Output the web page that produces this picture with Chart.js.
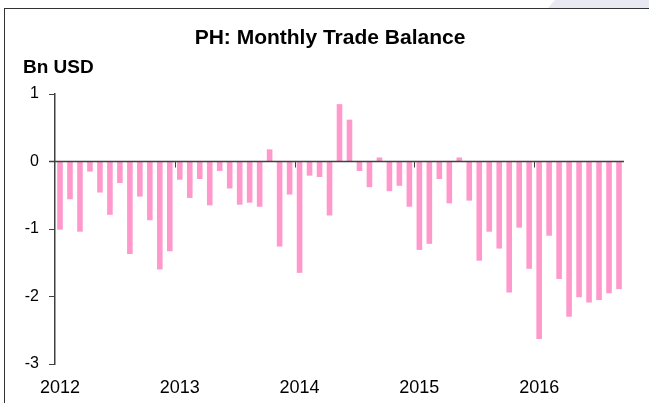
<!DOCTYPE html>
<html>
<head>
<meta charset="utf-8">
<script src="https://cdn.jsdelivr.net/npm/chart.js@4.4.3/dist/chart.umd.min.js"></script>
<style>
  body { margin: 0; background: #fff; }
  #wrap { position: relative; width: 649px; height: 403px; overflow: hidden; }
  #frame { position: absolute; left: 4px; top: 8px; right: -2px; bottom: -2px;
    border-top: 1px solid #333; border-left: 1px solid #333; }
  #corner { position: absolute; left: 548px; top: 0; width: 101px; height: 8px;
    background: #e8e8f3; clip-path: polygon(7px 0, 101px 0, 101px 8px, 0 8px); }
  canvas { position: absolute; left: 0; top: 0; }
</style>
</head>
<body>
<div id="wrap">
  <div id="corner"></div>
  <div id="frame"></div>
  <canvas id="chart" width="649" height="403"></canvas>
</div>
<script>
// Chart text
const title = 'PH: Monthly Trade Balance'
const unitLabel = 'Bn USD'

// Monthly categories, Jan 2012 - Sep 2016
const months = [
  '2012-01', '2012-02', '2012-03', '2012-04', '2012-05', '2012-06',
  '2012-07', '2012-08', '2012-09', '2012-10', '2012-11', '2012-12',
  '2013-01', '2013-02', '2013-03', '2013-04', '2013-05', '2013-06',
  '2013-07', '2013-08', '2013-09', '2013-10', '2013-11', '2013-12',
  '2014-01', '2014-02', '2014-03', '2014-04', '2014-05', '2014-06',
  '2014-07', '2014-08', '2014-09', '2014-10', '2014-11', '2014-12',
  '2015-01', '2015-02', '2015-03', '2015-04', '2015-05', '2015-06',
  '2015-07', '2015-08', '2015-09', '2015-10', '2015-11', '2015-12',
  '2016-01', '2016-02', '2016-03', '2016-04', '2016-05', '2016-06',
  '2016-07', '2016-08', '2016-09'
]

// Trade balance, Bn USD
const balance = [
  -1.01, -0.56, -1.04, -0.15, -0.46, -0.79, -0.32, -1.37, -0.52, -0.87, -1.60, -1.33,
  -0.27, -0.54, -0.26, -0.65, -0.14, -0.40, -0.64, -0.61, -0.67, 0.18, -1.26, -0.49,
  -1.65, -0.21, -0.23, -0.80, 0.85, 0.62, -0.14, -0.38, 0.06, -0.44, -0.36, -0.67,
  -1.31, -1.22, -0.26, -0.62, 0.06, -0.58, -1.47, -1.04, -1.29, -1.94, -0.98, -1.59,
  -2.63, -1.10, -1.74, -2.30, -2.01, -2.09, -2.05, -1.95, -1.89
]

// Axis ticks
const yTicks = [1, 0, -1, -2, -3]
const yearLabels = ['2012', '2013', '2014', '2015', '2016']

const font = '"Liberation Sans", Arial, sans-serif'
const axisColor = '#404040'

// Zero line with year ticks, plus the chart titles.
const decorations = {
  id: 'decorations',
  afterDatasetsDraw(chart) {
    const { ctx, chartArea, scales: { x, y } } = chart
    const y0 = y.getPixelForValue(0)

    ctx.save()
    ctx.strokeStyle = axisColor
    ctx.lineWidth = 1.5
    ctx.beginPath()
    ctx.moveTo(chartArea.left - 6, y0)
    ctx.lineTo(chartArea.right, y0)
    ctx.stroke()

    // Tick between December and January of each year.
    ctx.lineWidth = 1
    ctx.beginPath()
    months.forEach((m, i) => {
      if (i === 0 || !m.endsWith('-01')) return
      const xb = Math.round((x.getPixelForValue(i - 1) + x.getPixelForValue(i)) / 2) + 0.5
      ctx.moveTo(xb, y0)
      ctx.lineTo(xb, y0 + 6)
    })
    ctx.stroke()
    ctx.restore()
  },
  afterDraw(chart) {
    const { ctx } = chart
    ctx.save()
    ctx.fillStyle = '#000'
    ctx.textBaseline = 'middle'

    ctx.font = `bold 21px ${font}`
    ctx.textAlign = 'center'
    ctx.fillText(title, 330, 38)

    ctx.font = `bold 19px ${font}`
    ctx.textAlign = 'left'
    ctx.fillText(unitLabel, 23, 68)
    ctx.restore()
  }
}

new Chart(document.getElementById('chart'), {
  type: 'bar',
  data: {
    labels: months,
    datasets: [{
      data: balance,
      backgroundColor: '#ff99cc',
      borderWidth: 0,
      barPercentage: 0.56,
      categoryPercentage: 1
    }]
  },
  options: {
    responsive: false,
    animation: false,
    devicePixelRatio: 1,
    layout: { padding: { top: 94, right: 25, left: 0, bottom: 0 } },
    plugins: {
      legend: { display: false },
      tooltip: { enabled: false }
    },
    scales: {
      x: {
        type: 'category',
        offset: true,
        grid: { display: false, drawTicks: false },
        border: { display: false },
        ticks: {
          autoSkip: false,
          maxRotation: 0,
          padding: 13,
          color: '#000',
          font: { family: font, size: 18 },
          callback(value, index) {
            const m = months[index]
            if (!m.endsWith('-01')) return ''
            return yearLabels.find(yr => m.startsWith(yr)) ?? ''
          }
        },
        afterFit(scale) { scale.height = 39 }
      },
      y: {
        min: -3,
        max: 1,
        afterBuildTicks(scale) { scale.ticks = yTicks.map(v => ({ value: v })) },
        grid: {
          drawOnChartArea: false,
          tickLength: 6,
          color: axisColor,
          tickColor: axisColor
        },
        border: { display: true, color: axisColor, width: 1.5 },
        ticks: {
          padding: 10,
          color: '#000',
          font: { family: font, size: 16 }
        },
        afterFit(scale) { scale.width = 55 }
      }
    }
  },
  plugins: [decorations]
})
</script>
</body>
</html>
